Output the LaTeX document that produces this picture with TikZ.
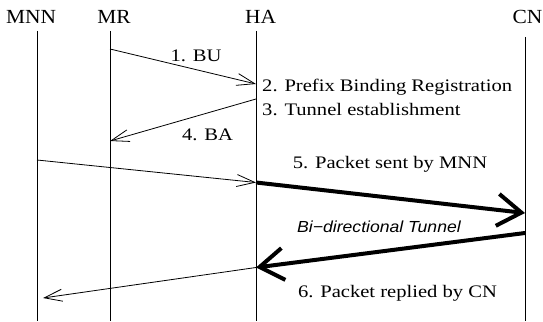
\documentclass[tikz,border=0pt]{standalone}
\usepackage{fontspec}
\setmainfont[FakeStretch=1.17]{Liberation Serif}
\newfontfamily\headfont[FakeStretch=1.07]{Liberation Serif}
\newfontfamily\tunfont[FakeStretch=1.1]{Liberation Sans}
\usetikzlibrary{arrows.meta}
\begin{document}
\begin{tikzpicture}[x=1pt,y=-1pt,
  lifeline/.style={line width=0.9pt},
  msg/.style={line width=0.8pt,-{Straight Barb[length=18pt,width=12pt,line width=0.8pt]}},
  tun/.style={line width=4pt,-{Straight Barb[length=24pt,width=32pt,line width=4pt]}},
  lbl/.style={font=\fontsize{17.6}{21}\selectfont, inner sep=0pt, anchor=base},
  lbll/.style={lbl, anchor=base west},
  head/.style={font=\headfont\fontsize{20}{22}\selectfont, inner sep=0pt, anchor=base},
  tunlbl/.style={font=\tunfont\itshape\fontsize{16}{18}\selectfont, inner sep=0pt, anchor=base}]
\useasboundingbox (0,0) rectangle (543,321);
% headers
\node[head] (hMNN) at (31,23.5) {MNN};
\node[head] (hMR) at (114,23.5) {MR};
\node[head] (hHA) at (260.5,23.5) {HA};
\node[head] (hCN) at (527.5,23.5) {CN};
% lifelines
\coordinate (MNNt) at (37,31);  \coordinate (MNNb) at (37,321);
\coordinate (MRt) at (110,31);  \coordinate (MRb) at (110,321);
\coordinate (HAt) at (256,31);  \coordinate (HAb) at (256,321);
\coordinate (CNt) at (525,37);  \coordinate (CNb) at (525,321);
\draw[lifeline] (MNNt) -- (MNNb);
\draw[lifeline] (MRt) -- (MRb);
\draw[lifeline] (HAt) -- (HAb);
\draw[lifeline] (CNt) -- (CNb);
% message points
\coordinate (m1s) at (110,49);  \coordinate (m1e) at (256,84);
\coordinate (m4s) at (256,99);  \coordinate (m4e) at (110,141);
\coordinate (m5s) at (37,160);  \coordinate (m5h) at (256,182.5);
\coordinate (m5e) at (525,213);
\coordinate (m6s) at (525,233);  \coordinate (m6h) at (256,267.5);
\coordinate (m6e) at (43,298);
% messages
\draw[msg] (m1s) -- (m1e);
\draw[msg] (m4s) -- (m4e);
\draw[msg] (m5s) -- (m5h);
\draw[tun] (m5h) -- (m5e);
\draw[tun] (m6s) -- (m6h);
\draw[msg] (m6h) -- (m6e);
% labels
\node[lbl] (l1) at (196,62) {1. BU};
\node[lbll] (l2) at (262,91) {2. Prefix Binding Registration};
\node[lbll] (l3) at (262,115) {3. Tunnel establishment};
\node[lbl] (l4) at (207.5,140) {4. BA};
\node[lbl] (l5) at (390,168) {5. Packet sent by MNN};
\node[tunlbl] (lt) at (379,232) {Bi\textminus directional Tunnel};
\node[lbl] (l6) at (397.5,297) {6. Packet replied by CN};
\end{tikzpicture}
\end{document}
